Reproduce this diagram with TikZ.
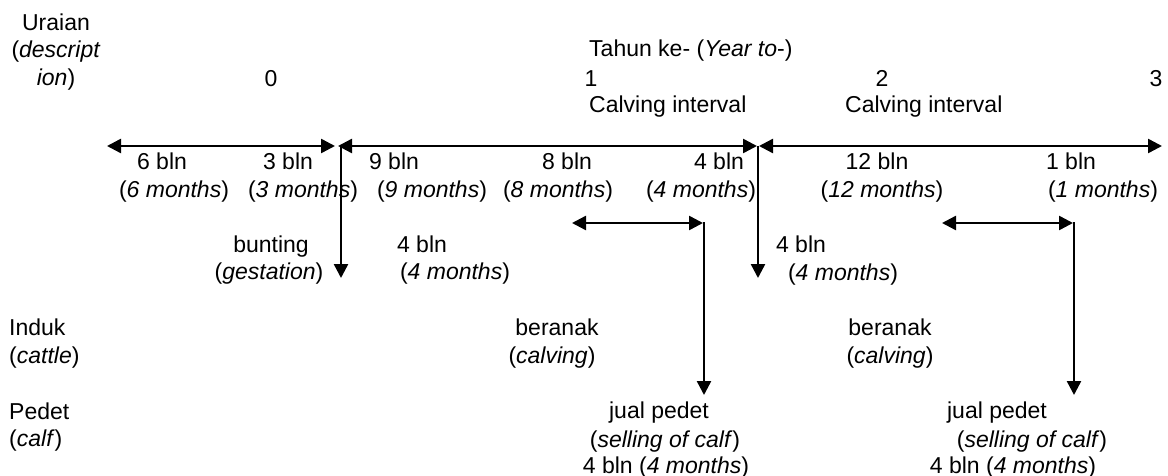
\documentclass[tikz,border=0pt]{standalone}
\usepackage{fontspec}
\setmainfont{Liberation Sans}
\usetikzlibrary{arrows.meta}
\begin{document}
\begin{tikzpicture}[x=1pt,y=-1pt,
  lbl/.style={anchor=base, inner sep=0pt, font=\fontsize{23}{27}\selectfont},
  lblw/.style={lbl, anchor=base west},
  tipA/.style={-{Triangle[length=14pt,width=14pt]}},
  tipB/.style={{Triangle[length=14pt,width=14pt]}-{Triangle[length=14pt,width=14pt]}},
  ln/.style={line width=2.5pt}]
\useasboundingbox (0,0) rectangle (1168,476);
% header
\node[lbl] (ur1) at (56,31) {Uraian};
\node[lbl] (ur2) at (56,58) {(\textit{descript}};
\node[lbl] (ur3) at (56,86) {\textit{ion})};
\node[lblw] (tahun) at (589,57) {Tahun ke- (\textit{Year to}-)};
\node[lbl] (y0) at (271,87) {0};
\node[lbl] (y1) at (591,87) {1};
\node[lbl] (y2) at (882,87) {2};
\node[lbl] (y3) at (1156,87) {3};
\node[lblw] (ci1) at (589,113) {Calving interval};
\node[lblw] (ci2) at (845,113) {Calving interval};
% timeline coordinates
\coordinate (a1s) at (107,146);
\coordinate (a1e) at (335,146);
\coordinate (a2s) at (338,146);
\coordinate (a2e) at (757,146);
\coordinate (a3s) at (759,146);
\coordinate (a3e) at (1162,146);
\coordinate (v1s) at (341,146);
\coordinate (v1e) at (341,278);
\coordinate (v2s) at (758,146);
\coordinate (v2e) at (758,278);
\coordinate (s1s) at (572,223);
\coordinate (s1e) at (703,223);
\coordinate (s1v) at (704,222);
\coordinate (s1b) at (704,395);
\coordinate (s2s) at (942,223);
\coordinate (s2e) at (1073,223);
\coordinate (s2v) at (1074,222);
\coordinate (s2b) at (1074,395);
\draw[ln,tipB] (a1s) -- (a1e);
\draw[ln,tipB] (a2s) -- (a2e);
\draw[ln,tipB] (a3s) -- (a3e);
\draw[ln,tipA] (v1s) -- (v1e);
\draw[ln,tipA] (v2s) -- (v2e);
\draw[ln,tipB] (s1s) -- (s1e);
\draw[ln,tipA] (s1v) -- (s1b);
\draw[ln,tipB] (s2s) -- (s2e);
\draw[ln,tipA] (s2v) -- (s2b);
% durations
\node[lbl] (b6) at (162,170) {6 bln};
\node[lbl] (b3) at (288,170) {3 bln};
\node[lbl] (b9) at (394,170) {9 bln};
\node[lbl] (b8) at (567,170) {8 bln};
\node[lbl] (b4) at (719,170) {4 bln};
\node[lbl] (b12) at (877,170) {12 bln};
\node[lbl] (b1) at (1071,170) {1 bln};
\node[lbl] (m6) at (174,197) {(\textit{6 months})};
\node[lbl] (m3) at (303,197) {(\textit{3 months})};
\node[lbl] (m9) at (432,197) {(\textit{9 months})};
\node[lbl] (m8) at (558,197) {(\textit{8 months})};
\node[lbl] (m4) at (701,197) {(\textit{4 months})};
\node[lbl] (m12) at (882,197) {(\textit{12 months})};
\node[lbl] (m1) at (1103,197) {(\textit{1 months})};
% second level
\node[lbl] (bunt) at (271,252) {bunting};
\node[lbl] (gest) at (269,279) {(\textit{gestation})};
\node[lbl] (c4a) at (422,252) {4 bln};
\node[lbl] (c4am) at (455,279) {(\textit{4 months})};
\node[lbl] (c4b) at (801,252) {4 bln};
\node[lbl] (c4bm) at (843,280) {(\textit{4 months})};
% rows
\node[lblw] (induk) at (9,335) {Induk};
\node[lblw] (cattle) at (9,363) {(\textit{cattle})};
\node[lblw] (pedet) at (9,419) {Pedet};
\node[lblw] (calf) at (9,446) {(\textit{calf})};
\node[lbl] (ber1) at (557,335) {beranak};
\node[lbl] (calv1) at (552,363) {(\textit{calving})};
\node[lbl] (ber2) at (890,335) {beranak};
\node[lbl] (calv2) at (890,363) {(\textit{calving})};
\node[lbl] (jp1) at (659,418) {jual pedet};
\node[lbl] (sc1) at (665,447) {(\textit{selling of calf})};
\node[lbl] (fm1) at (666,473) {4 bln (\textit{4 months})};
\node[lbl] (jp2) at (997,418) {jual pedet};
\node[lbl] (sc2) at (1032,447) {(\textit{selling of calf})};
\node[lbl] (fm2) at (1013,473) {4 bln (\textit{4 months})};
\end{tikzpicture}
\end{document}
